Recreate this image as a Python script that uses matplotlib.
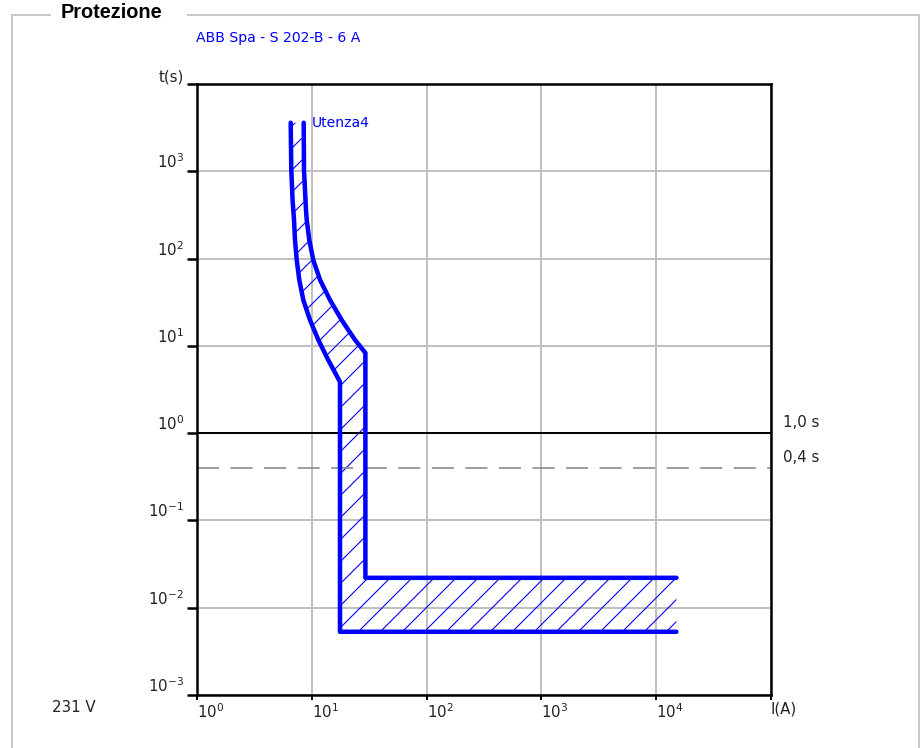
import numpy as np
import matplotlib
matplotlib.use("Agg")
import matplotlib.pyplot as plt
from matplotlib.lines import Line2D

# tripping band of the breaker (current in A, time in s)
left_i = [6.55, 6.63, 6.80, 7.00, 7.14, 7.39, 7.78, 8.43, 9.64, 11.4, 13.9, 16.7, 17.6, 17.6, 15000]
left_t = [3600, 1035, 469, 277, 163, 96.4, 56.9, 33.6, 19.8, 11.7, 6.89, 4.40, 3.86, 0.0053, 0.0053]
right_i = [8.5, 8.55, 8.9, 9.03, 9.51, 10.3, 11.8, 14.4, 18.2, 20.8, 23.8, 29.3, 29.3, 15000]
right_t = [3600, 1035, 361, 277, 163, 96.4, 56.9, 33.6, 19.8, 15.2, 11.7, 8.3, 0.022, 0.022]

x_ticks = [1, 10, 100, 1000, 10000, 100000]
x_labels = [r"$10^{0}$", r"$10^{1}$", r"$10^{2}$", r"$10^{3}$", r"$10^{4}$", "I(A)"]
y_ticks = [1e-3, 1e-2, 1e-1, 1, 10, 100, 1000, 10000]
y_labels = [r"$10^{-3}$", r"$10^{-2}$", r"$10^{-1}$", r"$10^{0}$", r"$10^{1}$",
            r"$10^{2}$", r"$10^{3}$", "t(s)"]
ref_times = [1.0, 0.4]
ref_labels = ["1,0 s", "0,4 s"]

title = "ABB Spa - S 202-B - 6 A"
curve_name = "Utenza4"
voltage = "231 V"

DPI = 132
W, H = 921, 748


def pt(px):
    return px * 72.0 / DPI


plt.rcParams["font.family"] = ["DejaVu Sans"]
plt.rcParams["mathtext.default"] = "regular"
plt.rcParams["hatch.linewidth"] = 0.6

fig = plt.figure(figsize=(W / DPI, H / DPI), dpi=DPI)
fig.patch.set_facecolor("white")

# frame around the panel, broken by the "Protezione" label
frame_col = "#c8c8c8"
fx = lambda p: p / W
fy = lambda p: 1 - p / H
for xs, ys in [([12, 50], [15, 15]), ([188, 919], [15, 15]),
               ([12, 12], [15, 748]), ([919, 919], [15, 748])]:
    fig.add_artist(Line2D([fx(v) for v in xs], [fy(v) for v in ys],
                          color=frame_col, lw=pt(2)))
fig.text(fx(61), fy(13), "Protezione", fontsize=pt(20), fontweight="bold",
         family="Liberation Sans", ha="left", va="center", color="black")
fig.text(fx(196), fy(38), title, fontsize=pt(14), color="#0000ff",
         ha="left", va="center")

ax = fig.add_axes([197 / W, 1 - 695 / H, (771 - 197) / W, (695 - 84) / H])
ax.set_xscale("log")
ax.set_yscale("log")
ax.set_xlim(1, 1e5)
ax.set_ylim(1e-3, 1e4)

ax.grid(True, which="major", color="#c0c0c0", lw=pt(2))
ax.minorticks_off()
ax.set_axisbelow(True)
for s in ax.spines.values():
    s.set_linewidth(pt(2.5))
    s.set_color("black")

ax.set_xticks(x_ticks)
ax.set_xticklabels(x_labels)
ax.set_yticks(y_ticks)
ax.set_yticklabels(y_labels)
ax.tick_params(axis="y", direction="out", length=pt(10), width=pt(2.5),
               pad=pt(3), labelsize=pt(15), labelcolor="#222222")
ax.tick_params(axis="x", direction="out", length=pt(5), width=pt(2),
               pad=pt(2), labelsize=pt(15), labelcolor="#222222")
for lab in ax.get_yticklabels():
    lab.set_va("bottom")
for lab in ax.get_xticklabels():
    lab.set_ha("left")

# reference times
ax.axhline(ref_times[0], color="black", lw=pt(2))
ax.axhline(ref_times[1], color="#808080", lw=pt(1.5), dashes=(pt(27), pt(14)))
for t, lab in zip(ref_times, ref_labels):
    ax.annotate(lab, xy=(1, t), xycoords=("axes fraction", "data"),
                xytext=(pt(12), pt(3)), textcoords="offset points",
                ha="left", va="bottom", fontsize=pt(15), color="#222222")

# hatched band between the two curves
band_x = np.concatenate([left_i, right_i[::-1]])
band_y = np.concatenate([left_t, right_t[::-1]])
ax.fill(band_x, band_y, facecolor="none", edgecolor="#0000ff", hatch="//", lw=0)
ax.plot(left_i, left_t, color="#0000ff", lw=pt(4.5),
        solid_capstyle="round", solid_joinstyle="round")
ax.plot(right_i, right_t, color="#0000ff", lw=pt(4.5),
        solid_capstyle="round", solid_joinstyle="round")
ax.annotate(curve_name, xy=(right_i[0], right_t[0]),
            xytext=(pt(8), 0), textcoords="offset points",
            ha="left", va="center", fontsize=pt(14), color="#0000ff")

fig.text(fx(52), fy(708), voltage, fontsize=pt(15), color="#222222",
         ha="left", va="center")

fig.savefig("out.png", dpi=DPI)
